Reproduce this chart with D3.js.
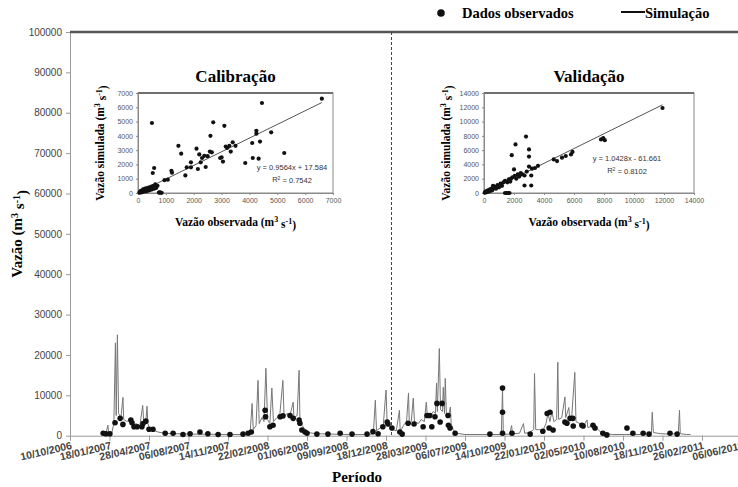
<!DOCTYPE html>
<html>
<head>
<meta charset="utf-8">
<script src="https://cdn.jsdelivr.net/npm/d3@7"></script>
<style>
body { margin: 0; background: #fff; }
svg { display: block; }
</style>
</head>
<body>
<div id="chart"></div>
<script>
// ---- data ----
var xTickLabels = ["10/10/2006","18/01/2007","28/04/2007","06/08/2007","14/11/2007","22/02/2008",
  "01/06/2008","09/09/2008","18/12/2008","28/03/2009","06/07/2009","14/10/2009","22/01/2010",
  "02/05/2010","10/08/2010","18/11/2010","26/02/2011","06/06/2011"];
var yTicks = [0,10000,20000,30000,40000,50000,60000,70000,80000,90000,100000];
var splitDate = "01/01/2009";  // calibration | validation

var simSeries = [
  ["2006-12-30",300],["2007-01-09",600],["2007-01-14",2600],["2007-01-16",500],["2007-01-24",800],
  ["2007-01-29",3000],["2007-02-02",23000],["2007-02-04",5000],["2007-02-07",25000],["2007-02-10",5500],
  ["2007-02-16",4500],["2007-02-21",9500],["2007-02-23",4000],["2007-03-03",3500],["2007-03-11",4200],
  ["2007-03-18",2500],["2007-03-26",3000],["2007-04-05",2500],["2007-04-12",7500],["2007-04-15",3000],
  ["2007-04-20",3500],["2007-04-23",7300],["2007-04-25",3000],["2007-04-30",1800],["2007-05-08",1400],
  ["2007-05-21",900],["2007-06-08",600],["2007-07-03",500],["2007-08-10",400],["2007-09-30",350],
  ["2007-11-19",300],["2007-12-27",300],
  ["2008-01-09",600],["2008-01-14",8000],["2008-01-17",1500],["2008-01-24",2500],["2008-01-29",13700],
  ["2008-02-01",3000],["2008-02-08",4500],["2008-02-13",3500],["2008-02-18",16700],["2008-02-22",4000],
  ["2008-02-28",3000],["2008-03-04",11800],["2008-03-08",3500],["2008-03-17",4500],["2008-03-24",5000],
  ["2008-04-01",13700],["2008-04-04",4500],["2008-04-11",5500],["2008-04-19",5000],["2008-04-27",8300],
  ["2008-04-29",4500],["2008-05-07",5000],["2008-05-12",16200],["2008-05-14",4500],["2008-05-20",2500],
  ["2008-05-27",1500],["2008-06-04",800],["2008-06-22",500],["2008-07-30",400],["2008-09-19",300],
  ["2008-11-08",300],
  ["2008-11-16",600],["2008-11-21",8800],["2008-11-24",1200],["2008-12-04",2000],["2008-12-11",2500],
  ["2008-12-18",11300],["2008-12-21",3000],["2008-12-28",2000],["2009-01-05",1500],["2009-01-13",1200],
  ["2009-01-21",6300],["2009-01-23",1000],["2009-01-31",2500],["2009-02-08",3500],["2009-02-13",10600],
  ["2009-02-15",3000],["2009-02-20",3500],["2009-02-25",9300],["2009-02-28",3500],["2009-03-10",3000],
  ["2009-03-17",4000],["2009-03-25",3500],["2009-03-30",8300],["2009-04-02",4500],["2009-04-09",5000],
  ["2009-04-17",6000],["2009-04-22",5500],["2009-04-25",13000],["2009-04-27",6000],["2009-05-02",21600],
  ["2009-05-05",6500],["2009-05-10",6000],["2009-05-12",12000],["2009-05-15",5500],["2009-05-17",14200],
  ["2009-05-20",5000],["2009-05-25",4500],["2009-05-30",7100],["2009-06-01",3000],["2009-06-06",1500],
  ["2009-06-14",600],["2009-07-06",300],["2009-09-08",300],
  ["2009-10-06",300],["2009-10-09",11800],["2009-10-11",300],["2009-10-27",400],["2009-11-01",2500],
  ["2009-11-03",500],["2009-11-21",600],["2009-12-01",3000],["2009-12-04",600],["2009-12-16",800],
  ["2009-12-27",1500],["2009-12-29",15400],["2010-01-01",1500],["2010-01-11",1500],["2010-01-19",1200],
  ["2010-01-27",3000],["2010-02-01",5500],["2010-02-06",3500],["2010-02-11",6000],["2010-02-16",3500],
  ["2010-02-23",4000],["2010-02-26",18200],["2010-02-28",4000],["2010-03-08",4500],["2010-03-16",9600],
  ["2010-03-18",4500],["2010-03-26",7000],["2010-03-28",4000],["2010-04-02",4500],["2010-04-10",15700],
  ["2010-04-13",3500],["2010-04-23",3000],["2010-05-03",2500],["2010-05-11",3900],["2010-05-13",2000],
  ["2010-05-26",2500],["2010-06-03",2000],["2010-06-13",1000],["2010-06-26",500],["2010-07-14",300],
  ["2010-09-23",300],["2010-10-13",400],["2010-10-21",800],["2010-10-23",5800],["2010-10-26",800],
  ["2010-11-12",500],["2010-12-08",400],["2010-12-28",500],["2010-12-31",6300],["2011-01-02",500],
  ["2011-01-18",300],["2011-01-28",300]
];

var obsSeries = [
  ["2007-01-02",600],["2007-01-09",500],["2007-01-19",500],["2007-02-01",3200],["2007-02-14",4300],
  ["2007-02-21",2800],["2007-03-13",3900],["2007-03-16",3200],["2007-03-21",2200],["2007-03-29",2200],
  ["2007-04-10",2200],["2007-04-13",3000],["2007-04-20",3600],["2007-04-28",1600],["2007-05-08",1600],
  ["2007-06-08",600],["2007-06-28",600],["2007-07-23",300],["2007-08-10",500],["2007-09-04",900],
  ["2007-09-24",500],["2007-10-20",300],["2007-11-19",300],["2007-12-22",400],["2008-01-04",600],
  ["2008-01-12",900],["2008-02-16",6300],["2008-02-17",4700],["2008-02-28",2200],["2008-03-07",2600],
  ["2008-03-25",4700],["2008-04-01",4900],["2008-04-19",5000],["2008-04-27",4300],["2008-05-12",3900],
  ["2008-05-14",3100],["2008-05-19",1400],["2008-05-27",900],["2008-06-01",600],["2008-06-26",400],
  ["2008-07-24",400],["2008-08-24",600],["2008-09-23",400],["2008-10-31",400],["2008-11-15",1000],
  ["2008-11-28",500],["2008-12-10",2200],["2008-12-21",3400],["2008-12-23",2900],["2009-01-02",1900],
  ["2009-01-22",900],["2009-01-28",400],["2009-02-12",3100],["2009-02-27",2900],["2009-03-22",2200],
  ["2009-04-01",5000],["2009-04-08",5000],["2009-04-13",2200],["2009-04-21",4700],["2009-04-26",8000],
  ["2009-05-04",3400],["2009-05-09",8000],["2009-05-24",5000],["2009-05-25",2600],["2009-05-29",1900],
  ["2009-06-11",600],["2009-09-07",400],["2009-10-09",11800],["2009-10-09",5800],["2009-10-09",600],
  ["2009-11-02",600],["2009-12-18",400],["2010-01-19",1100],["2010-01-30",5500],["2010-02-04",1900],
  ["2010-02-06",5800],["2010-02-14",1400],["2010-03-16",3400],["2010-03-21",3100],["2010-03-29",4300],
  ["2010-04-05",4300],["2010-04-06",2400],["2010-04-28",2600],["2010-05-01",2400],["2010-05-26",2600],
  ["2010-05-31",1900],["2010-06-20",600],["2010-06-30",200],["2010-08-20",1900],["2010-09-04",600],
  ["2010-09-30",600],["2010-10-15",400],["2010-12-07",600],["2010-12-25",400]
];

// scatter insets: [observed, simulated]
var calibPoints = [
  [50,20],[80,60],[100,150],[120,40],[150,100],[180,250],[200,80],[220,180],[250,300],[280,120],
  [300,220],[320,350],[350,150],[380,280],[400,400],[420,200],[450,320],[480,450],[500,250],[520,380],
  [550,500],[580,300],[600,450],[620,600],[650,350],[700,500],[750,30],[780,40],[800,20],[850,10],
  [500,4900],[530,1400],[580,1750],[950,900],[1070,930],[1200,1550],[1220,1420],[1450,3300],[1550,2750],
  [1700,1230],[1750,1800],[1900,2150],[1900,1800],[2100,3100],[2150,1680],[2200,2700],[2250,2150],
  [2300,2450],[2380,2600],[2430,1820],[2500,2580],[2580,2900],[2600,4000],[2650,2850],[2700,4950],
  [2950,2450],[3000,2500],[3050,2200],[3100,4700],[3150,3250],[3200,3150],[3280,3300],[3330,2900],
  [3400,3550],[3500,3300],[3850,2100],[4100,3500],[4120,2450],[4250,4350],[4250,4150],[4330,2400],
  [4380,3600],[4450,6300],[4780,4250],[5250,2800],[6600,6600]
];
var validPoints = [
  [50,50],[100,200],[150,100],[200,300],[250,150],[300,400],[350,250],[400,500],[450,300],[500,600],
  [550,400],[600,1000],[650,700],[700,900],[800,600],[900,1100],[1000,800],[1100,1300],[1200,1000],
  [1300,1500],[1400,0],[1500,0],[1600,0],[1700,0],[1400,1700],[1550,1500],[1650,1900],[1750,1600],
  [1800,2000],[1850,5300],[1900,2200],[2000,3300],[2050,2400],[2100,6800],[2150,2000],[2250,2600],
  [2350,2300],[2450,2800],[2550,2600],[2700,2450],[2700,1050],[2800,7900],[2850,3000],[3000,6100],
  [3000,5100],[3000,3700],[3150,2450],[3150,1050],[3200,3400],[3400,3500],[3600,3800],[4650,4700],
  [4870,4470],[5200,4950],[5450,5180],[5800,5400],[5900,5750],[7800,7500],[8050,7400],[7950,7700],
  [11900,11900]
];
var calibFit = [0.9564, 17.584], calibR2 = "0.7542";
var validFit = [1.0428, -61.661], validR2 = "0.8102";
var calibTicks = d3.range(0, 7001, 1000);
var validTicks = d3.range(0, 14001, 2000);

// ---- chart ----
var serif = "'Liberation Serif', 'Times New Roman', serif",
    sans = "'Liberation Sans', Arial, sans-serif";

var svg = d3.select("#chart").append("svg")
    .attr("width", 738)
    .attr("height", 487);

var parse = d3.timeParse("%d/%m/%Y"),
    parseIso = d3.timeParse("%Y-%m-%d");

var x = d3.scaleTime()
    .domain([parse(xTickLabels[0]), parse(xTickLabels[xTickLabels.length - 1])])
    .range([70, 741.5]);

var y = d3.scaleLinear()
    .domain([0, 100000])
    .range([435.7, 32]);

// y axis
var yAxis = svg.append("g")
    .attr("transform", "translate(70,0)")
    .call(d3.axisLeft(y).tickValues(yTicks).tickSize(4).tickSizeOuter(0).tickFormat(d3.format("d")));
yAxis.select(".domain").attr("stroke", "#9a9a9a");
yAxis.selectAll(".tick line").attr("stroke", "#9a9a9a");
yAxis.selectAll(".tick text")
    .attr("x", -8)
    .style("font-family", sans).style("font-size", "10px").attr("fill", "#444");

// x axis
var xAxis = svg.append("g")
    .attr("transform", "translate(0," + y(0) + ")")
    .call(d3.axisBottom(x).tickValues(xTickLabels.map(parse)).tickSize(5).tickSizeOuter(0)
      .tickFormat(d3.timeFormat("%d/%m/%Y")));
xAxis.select(".domain").attr("stroke", "#9a9a9a");
xAxis.selectAll(".tick line").attr("stroke", "#9a9a9a");
xAxis.selectAll(".tick text")
    .attr("x", 0).attr("y", 0).attr("dy", 0)
    .attr("text-anchor", "end")
    .attr("transform", "translate(2,13) rotate(-13)")
    .style("font-family", sans).style("font-size", "10.5px").style("font-weight", "bold")
    .attr("fill", "#444");

// top frame line
svg.append("line")
    .attr("x1", 70).attr("x2", 738)
    .attr("y1", y(100000)).attr("y2", y(100000))
    .attr("stroke", "#555").attr("stroke-width", 2.5);

// calibration / validation separator
svg.append("line")
    .attr("x1", x(parse(splitDate))).attr("x2", x(parse(splitDate)))
    .attr("y1", y(100000)).attr("y2", y(0))
    .attr("stroke", "#444").attr("stroke-width", 1)
    .attr("stroke-dasharray", "3,2");

// simulated line
var line = d3.line()
    .x(function(d) { return x(parseIso(d[0])); })
    .y(function(d) { return y(d[1]); });

svg.append("path")
    .datum(simSeries)
    .attr("fill", "none")
    .attr("stroke", "#777")
    .attr("stroke-width", 1)
    .attr("d", line);

// observed points
svg.selectAll(".obs")
    .data(obsSeries)
  .enter().append("circle")
    .attr("class", "obs")
    .attr("cx", function(d) { return x(parseIso(d[0])); })
    .attr("cy", function(d) { return y(d[1]); })
    .attr("r", 2.8)
    .attr("fill", "#111");

// units helper: "(m3 s-1)" with superscripts
function unitLabel(sel, pre, supSize) {
  sel.append("tspan").text(pre + "(m");
  sel.append("tspan").text("3").attr("dy", "-0.45em").style("font-size", supSize);
  sel.append("tspan").text(" s").attr("dy", "0.45em");
  sel.append("tspan").text("-1").attr("dy", "-0.45em").style("font-size", supSize);
  sel.append("tspan").text(")").attr("dy", "0.45em");
}

// axis titles
var yTitle = svg.append("text")
    .attr("transform", "translate(22," + y(50000) + ") rotate(-90)")
    .attr("text-anchor", "middle")
    .style("font-family", serif).style("font-size", "15px").style("font-weight", "bold");
unitLabel(yTitle, "Vazão  ", "10px");

svg.append("text")
    .attr("x", 357).attr("y", 482)
    .attr("text-anchor", "middle")
    .style("font-family", serif).style("font-size", "15px").style("font-weight", "bold")
    .text("Período");

// legend
svg.append("circle").attr("cx", 441).attr("cy", 13).attr("r", 3.8).attr("fill", "#111");
svg.append("text")
    .attr("x", 462).attr("y", 18)
    .style("font-family", serif).style("font-size", "14.5px").style("font-weight", "bold")
    .text("Dados observados");
svg.append("line")
    .attr("x1", 621).attr("x2", 645).attr("y1", 12).attr("y2", 12)
    .attr("stroke", "#111").attr("stroke-width", 2);
svg.append("text")
    .attr("x", 645).attr("y", 18)
    .style("font-family", serif).style("font-size", "14.5px").style("font-weight", "bold")
    .text("Simulação");

// inset scatter plots
function inset(points, ticks, fit, r2, box, title, eqPos) {
  var ix = d3.scaleLinear().domain([0, ticks[ticks.length - 1]]).range([box[0], box[1]]);
  var iy = d3.scaleLinear().domain([0, ticks[ticks.length - 1]]).range([box[3], box[2]]);
  var g = svg.append("g");

  g.append("rect")
      .attr("x", box[0]).attr("y", box[2])
      .attr("width", box[1] - box[0]).attr("height", box[3] - box[2])
      .attr("fill", "#fff").attr("stroke", "#8a8a8a").attr("stroke-width", 1);
  g.append("line")
      .attr("x1", box[0]).attr("x2", box[1]).attr("y1", box[2]).attr("y2", box[2])
      .attr("stroke", "#555").attr("stroke-width", 1.5);

  var ax = g.append("g").attr("transform", "translate(0," + box[3] + ")")
      .call(d3.axisBottom(ix).tickValues(ticks).tickSize(2).tickSizeOuter(0).tickFormat(d3.format("d")));
  var ay = g.append("g").attr("transform", "translate(" + box[0] + ",0)")
      .call(d3.axisLeft(iy).tickValues(ticks).tickSize(2).tickSizeOuter(0).tickFormat(d3.format("d")));
  [ax, ay].forEach(function(a) {
    a.select(".domain").attr("stroke", "#8a8a8a");
    a.selectAll(".tick line").attr("stroke", "#8a8a8a");
    a.selectAll(".tick text").style("font-family", sans).style("font-size", "7px").attr("fill", "#555");
  });
  ax.selectAll(".tick text").attr("y", 5);
  ay.selectAll(".tick text").attr("x", -5);

  var xmax = d3.max(points, function(d) { return d[0]; });
  g.append("line")
      .attr("x1", ix(0)).attr("y1", iy(Math.max(0, fit[1])))
      .attr("x2", ix(xmax)).attr("y2", iy(fit[0] * xmax + fit[1]))
      .attr("stroke", "#555").attr("stroke-width", 1);

  g.selectAll(".pt")
      .data(points)
    .enter().append("circle")
      .attr("cx", function(d) { return ix(d[0]); })
      .attr("cy", function(d) { return iy(d[1]); })
      .attr("r", 2.1)
      .attr("fill", "#111");

  var cx = (box[0] + box[1]) / 2;
  g.append("text")
      .attr("x", cx).attr("y", box[2] - 11)
      .attr("text-anchor", "middle")
      .style("font-family", serif).style("font-size", "17px").style("font-weight", "bold")
      .text(title);

  var xl = g.append("text")
      .attr("x", cx).attr("y", box[3] + 33)
      .attr("text-anchor", "middle")
      .style("font-family", serif).style("font-size", "11.5px").style("font-weight", "bold");
  unitLabel(xl, "Vazão observada ", "8px");

  var yl = g.append("text")
      .attr("transform", "translate(" + (box[0] - 34) + "," + ((box[2] + box[3]) / 2) + ") rotate(-90)")
      .attr("text-anchor", "middle")
      .style("font-family", serif).style("font-size", "11.5px").style("font-weight", "bold");
  unitLabel(yl, "Vazão simulada ", "8px");

  var sign = fit[1] < 0 ? " - " : " + ";
  g.append("text")
      .attr("x", eqPos[0]).attr("y", eqPos[1])
      .attr("text-anchor", "middle")
      .style("font-family", sans).style("font-size", "7.5px").attr("fill", "#333")
      .text("y = " + fit[0] + "x" + sign + Math.abs(fit[1]));
  var r = g.append("text")
      .attr("x", eqPos[0]).attr("y", eqPos[1] + 12)
      .attr("text-anchor", "middle")
      .style("font-family", sans).style("font-size", "7.5px").attr("fill", "#333");
  r.append("tspan").text("R");
  r.append("tspan").text("2").attr("dy", "-0.4em").style("font-size", "5px");
  r.append("tspan").text(" = " + r2).attr("dy", "0.4em");
}

inset(calibPoints, calibTicks, calibFit, calibR2, [138, 333, 93, 193], "Calibração", [292, 170]);
inset(validPoints, validTicks, validFit, validR2, [484, 694, 93, 193], "Validação", [627, 161]);
</script>
</body>
</html>
